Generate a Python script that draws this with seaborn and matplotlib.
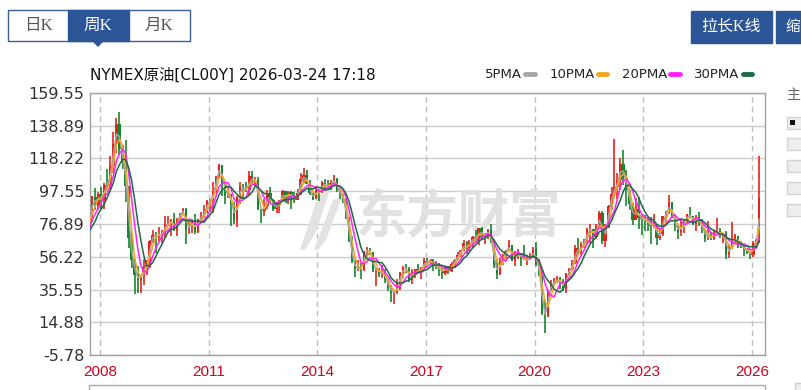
import numpy as np
import pandas as pd
import matplotlib
matplotlib.use('Agg')
import matplotlib.pyplot as plt
import matplotlib.dates as mdates
from matplotlib.patches import Rectangle, Polygon
import seaborn as sns

# ---------------- data (monthly OHLC, 2007-04 .. 2026-03) ----------------
start_month = '2007-04'
opens = [
    65.9, 65.6, 64.6, 70.7, 78.2, 73.9, 81.7, 94.0, 88.7,
    96.0, 91.8, 101.8, 101.6, 113.5, 127.4, 140.0, 124.1, 115.5, 100.6, 67.8, 54.4,
    44.6, 41.7, 44.8, 49.7, 51.1, 66.3, 69.9, 69.5, 70.0, 70.6, 77.0, 77.3,
    79.4, 72.9, 79.7, 83.8, 86.2, 73.9, 75.6, 78.9, 71.9, 79.9, 81.4, 84.1,
    91.4, 92.2, 97.0, 106.7, 113.9, 102.7, 95.4, 95.7, 88.8, 79.2, 93.2, 100.4,
    98.8, 98.5, 107.1, 103.0, 104.9, 86.5, 85.0, 88.1, 96.5, 92.2, 86.2, 88.9,
    91.8, 97.5, 92.0, 97.2, 93.5, 92.0, 96.6, 105.0, 107.7, 102.3, 96.4, 92.7,
    98.4, 97.5, 102.6, 101.6, 99.7, 102.7, 105.4, 98.2, 96.0, 91.2, 80.5, 66.2,
    53.3, 48.2, 49.8, 47.6, 59.6, 60.3, 59.5, 47.1, 49.2, 45.1, 46.6, 41.7,
    37.0, 33.6, 33.8, 38.3, 45.9, 49.1, 48.3, 41.6, 44.7, 48.2, 46.9, 49.4,
    53.7, 52.8, 54.0, 50.6, 49.3, 48.3, 46.0, 50.2, 47.2, 51.7, 54.4, 57.4,
    60.4, 64.7, 61.6, 64.9, 68.6, 67.0, 74.2, 68.8, 69.8, 73.3, 65.3, 50.9,
    45.4, 53.8, 57.2, 60.1, 63.9, 53.5, 58.5, 58.6, 55.1, 54.1, 54.2, 55.2,
    61.1, 51.6, 44.8, 20.5, 18.8, 35.5, 39.3, 40.3, 42.6, 40.2, 35.8, 45.3,
    48.5, 52.2, 61.5, 59.2, 63.6, 66.3, 73.5, 73.9, 68.5, 75.0, 83.6, 66.2,
    75.2, 88.2, 95.7, 100.3, 104.7, 114.7, 105.8, 98.6, 89.6, 79.5, 86.5, 80.6,
    80.3, 78.9, 77.1, 75.7, 76.8, 68.1, 70.6, 81.8, 83.6, 90.8, 81.0, 76.0,
    71.6, 75.8, 78.3, 83.2, 81.9, 77.0, 81.5, 77.9, 73.5, 68.2, 69.3, 68.0,
    71.7, 72.5, 69.8, 71.5, 58.2, 60.8, 65.1, 69.3, 64.0, 62.4, 60.9, 58.6,
    57.4, 65.2, 67.0,
]
highs = [
    68.1, 67.3, 70.8, 78.8, 78.8, 83.9, 94.7, 99.3, 97.0,
    100.1, 102.6, 111.8, 119.9, 135.1, 143.7, 147.3, 126.6, 130.0, 100.6, 71.0, 54.7,
    50.5, 45.0, 54.7, 54.0, 66.5, 73.4, 72.0, 75.0, 73.0, 82.0, 82.0, 80.0,
    83.9, 80.5, 83.8, 87.2, 87.0, 79.3, 79.3, 83.0, 80.0, 84.4, 88.6, 92.1,
    92.6, 103.4, 106.9, 114.8, 114.0, 102.7, 100.6, 95.9, 90.5, 94.6, 103.4, 102.4,
    103.7, 110.6, 110.5, 106.3, 106.4, 86.6, 92.9, 98.3, 100.4, 92.6, 90.6, 91.9,
    98.2, 98.0, 97.4, 97.8, 97.0, 99.0, 108.9, 112.2, 110.7, 104.4, 96.4, 100.8,
    98.9, 103.8, 105.2, 104.9, 104.5, 107.7, 106.0, 98.7, 96.0, 92.5, 81.5, 69.0,
    54.0, 54.2, 52.5, 59.9, 62.6, 61.8, 59.5, 49.3, 49.4, 50.9, 48.4, 42.0,
    38.4, 34.7, 41.9, 46.8, 50.2, 51.7, 49.5, 48.8, 48.3, 51.9, 49.9, 55.2,
    55.2, 54.9, 54.6, 53.8, 52.0, 49.3, 50.4, 50.4, 52.9, 54.8, 59.0, 60.5,
    66.7, 66.3, 66.7, 69.6, 72.9, 74.5, 75.3, 70.2, 73.9, 76.9, 65.4, 54.6,
    55.4, 57.8, 60.7, 66.6, 63.9, 59.9, 60.9, 58.6, 63.4, 57.5, 58.7, 62.3,
    65.7, 54.7, 48.7, 29.0, 35.5, 41.6, 42.5, 43.8, 43.5, 41.9, 46.0, 49.3,
    53.9, 63.8, 67.9, 65.5, 67.3, 74.5, 77.0, 73.9, 76.7, 85.4, 85.0, 76.8,
    88.8, 100.5, 130.5, 109.2, 118.5, 123.7, 111.0, 98.6, 90.4, 93.6, 93.7, 83.3,
    82.7, 80.6, 81.0, 83.5, 76.9, 74.0, 81.8, 84.9, 95.0, 90.8, 81.0, 76.2,
    79.3, 79.6, 83.2, 87.7, 81.9, 82.4, 84.5, 80.2, 73.5, 78.5, 72.0, 73.0,
    80.8, 74.6, 71.5, 72.3, 64.0, 78.4, 70.5, 69.4, 66.4, 63.6, 61.5, 60.0,
    66.0, 67.5, 119.5,
]
lows = [
    61.9, 61.5, 64.2, 69.4, 69.0, 73.5, 77.9, 86.0, 85.5,
    86.1, 86.1, 98.6, 98.7, 109.0, 122.0, 120.4, 111.3, 90.5, 62.0, 49.0, 32.4,
    33.2, 33.5, 38.7, 45.0, 49.4, 64.8, 58.3, 66.3, 65.0, 68.0, 75.0, 69.5,
    72.4, 69.5, 78.3, 82.5, 64.2, 70.4, 71.2, 70.8, 71.0, 79.6, 80.8, 84.1,
    84.6, 84.0, 96.5, 105.0, 94.6, 89.7, 93.6, 75.7, 77.1, 75.0, 89.2, 92.5,
    96.8, 95.4, 102.1, 100.7, 85.6, 77.3, 82.0, 86.5, 90.3, 84.9, 84.0, 84.1,
    91.5, 90.1, 89.2, 86.1, 89.9, 92.0, 95.5, 103.0, 102.0, 95.5, 91.8, 92.5,
    91.2, 96.2, 97.4, 98.7, 98.5, 102.0, 97.2, 92.5, 90.4, 79.8, 65.7, 52.4,
    43.6, 47.4, 42.0, 47.0, 56.5, 57.3, 46.7, 37.8, 43.2, 42.6, 39.9, 34.5,
    27.6, 26.1, 33.0, 35.2, 43.0, 45.8, 40.6, 39.2, 42.5, 46.3, 42.2, 49.3,
    50.7, 51.2, 47.1, 48.2, 43.8, 42.0, 44.4, 45.6, 46.5, 49.1, 54.2, 55.8,
    59.9, 58.1, 59.9, 61.8, 66.3, 63.6, 67.0, 64.4, 67.3, 64.9, 49.4, 42.4,
    44.4, 51.2, 55.1, 59.9, 53.5, 50.6, 54.7, 50.5, 53.9, 50.9, 54.1, 55.2,
    50.6, 44.0, 19.3, 8.0, 18.0, 34.4, 38.7, 39.9, 36.1, 34.9, 33.6, 44.3,
    47.2, 51.5, 57.3, 57.6, 61.6, 64.9, 65.0, 61.7, 67.4, 74.6, 64.4, 62.4,
    74.3, 85.7, 93.5, 92.9, 98.2, 101.5, 88.3, 85.7, 76.3, 79.3, 73.6, 70.1,
    72.5, 72.3, 64.1, 74.2, 63.6, 66.9, 69.0, 77.6, 83.5, 80.6, 72.4, 67.7,
    69.3, 71.4, 77.4, 80.7, 76.0, 72.5, 75.4, 71.5, 65.3, 66.6, 66.6, 67.0,
    71.4, 68.3, 65.2, 55.1, 55.3, 60.8, 64.4, 61.9, 61.5, 56.4, 57.7, 54.9,
    55.8, 61.5, 65.0,
]
closes = [
    65.7, 64.0, 70.7, 78.2, 74.0, 81.7, 94.5, 88.7, 96.0,
    91.8, 101.8, 101.6, 113.5, 127.4, 140.0, 124.1, 115.5, 100.6, 67.8, 54.4, 44.6,
    41.7, 44.8, 49.7, 51.1, 66.3, 69.9, 69.5, 70.0, 70.6, 77.0, 77.3, 79.4,
    72.9, 79.7, 83.8, 86.2, 73.9, 75.6, 78.9, 71.9, 79.9, 81.4, 84.1, 91.4,
    92.2, 97.0, 106.7, 113.9, 102.7, 95.4, 95.7, 88.8, 79.2, 93.2, 100.4, 98.8,
    98.5, 107.1, 103.0, 104.9, 86.5, 85.0, 88.1, 96.5, 92.2, 86.2, 88.9, 91.8,
    97.5, 92.0, 97.2, 93.5, 92.0, 96.6, 105.0, 107.7, 102.3, 96.4, 92.7, 98.4,
    97.5, 102.6, 101.6, 99.7, 102.7, 105.4, 98.2, 96.0, 91.2, 80.5, 66.2, 53.3,
    48.2, 49.8, 47.6, 59.6, 60.3, 59.5, 47.1, 49.2, 45.1, 46.6, 41.7, 37.0,
    33.6, 33.8, 38.3, 45.9, 49.1, 48.3, 41.6, 44.7, 48.2, 46.9, 49.4, 53.7,
    52.8, 54.0, 50.6, 49.3, 48.3, 46.0, 50.2, 47.2, 51.7, 54.4, 57.4, 60.4,
    64.7, 61.6, 64.9, 68.6, 67.0, 74.2, 68.8, 69.8, 73.3, 65.3, 50.9, 45.4,
    53.8, 57.2, 60.1, 63.9, 53.5, 58.5, 58.6, 55.1, 54.1, 54.2, 55.2, 61.1,
    51.6, 44.8, 20.5, 18.8, 35.5, 39.3, 40.3, 42.6, 40.2, 35.8, 45.3, 48.5,
    52.2, 61.5, 59.2, 63.6, 66.3, 73.5, 73.9, 68.5, 75.0, 83.6, 66.2, 75.2,
    88.2, 95.7, 100.3, 104.7, 114.7, 105.8, 98.6, 89.6, 79.5, 86.5, 80.6, 80.3,
    78.9, 77.1, 75.7, 76.8, 68.1, 70.6, 81.8, 83.6, 90.8, 81.0, 76.0, 71.6,
    75.8, 78.3, 83.2, 81.9, 77.0, 81.5, 77.9, 73.5, 68.2, 69.3, 68.0, 71.7,
    72.5, 69.8, 71.5, 58.2, 60.8, 65.1, 69.3, 64.0, 62.4, 60.9, 58.6, 57.4,
    65.2, 67.0, 93.0,
]
ma_labels = ['5PMA', '10PMA', '20PMA', '30PMA']
ma_windows = [2, 3, 5, 7]          # monthly equivalents of the weekly averages
ma_colors = ['#a6a6a6', '#f5a623', '#ff22ff', '#1d6b45']
y_ticks = [159.55, 138.89, 118.22, 97.55, 76.89, 56.22, 35.55, 14.88, -5.78]
year_ticks = ['2008', '2011', '2014', '2017', '2020', '2023', '2026']
title = 'NYMEX原油[CL00Y] 2026-03-24 17:18'
x_start, x_end = '2007-09-22', '2026-05-12'

# ---------------- style ----------------
sns.set_style('white')
plt.rcParams['font.family'] = ['DejaVu Sans', 'Noto Sans CJK SC']
CJK = ['Noto Sans CJK SC', 'DejaVu Sans']
BLUE = '#2b5597'
UP, DOWN = '#e8231b', '#16862e'

W, H = 801, 390
fig = plt.figure(figsize=(W / 100, H / 100), dpi=100)
fig.patch.set_facecolor('white')
fx = lambda x: x / W
fy = lambda y: 1 - y / H

ax = fig.add_axes([fx(90), fy(355), fx(765) - fx(90), fy(93) - fy(355)])

df = pd.DataFrame({'open': opens, 'high': highs, 'low': lows, 'close': closes})
df['date'] = pd.date_range(start_month, periods=len(df), freq='MS') + pd.Timedelta(days=14)
for lbl, w in zip(ma_labels, ma_windows):
    df[lbl] = df['close'].rolling(w, min_periods=1).mean()

up = df['close'] >= df['open']
colors = np.where(up, UP, DOWN)

# wicks and bodies
ax.vlines(df['date'], df['low'], df['high'], colors=colors, lw=1.2, zorder=3)
body_low = np.minimum(df['open'], df['close'])
body_h = np.maximum(np.abs(df['close'] - df['open']), 0.6)
ax.bar(df['date'], body_h, bottom=body_low, width=24, color=colors, linewidth=0, zorder=3)

# moving averages
for lbl, c in zip(ma_labels, ma_colors):
    sns.lineplot(data=df, x='date', y=lbl, ax=ax, color=c, lw=1.1, label=lbl, zorder=4)

ax.set_xlim(pd.Timestamp(x_start), pd.Timestamp(x_end))
ax.set_ylim(y_ticks[-1], y_ticks[0])
ax.set_yticks(y_ticks)
ax.set_yticklabels([f'{v:.2f}' for v in y_ticks], fontsize=11.5, color='#333333')
ax.set_xticks([pd.Timestamp(f'{y}-01-01') for y in year_ticks])
ax.set_xticklabels(year_ticks, color='#d0021b', fontsize=11,
                   family=['Liberation Sans Narrow', 'Liberation Sans'])
ax.tick_params(axis='both', length=0)
ax.tick_params(axis='y', pad=4)
ax.tick_params(axis='x', pad=7)
ax.set_xlabel('')
ax.set_ylabel('')
ax.set_axisbelow(True)
ax.grid(axis='y', color='#cccccc', lw=1, ls='-')
ax.grid(axis='x', color='#bdbdbd', lw=1, ls=(0, (4, 3)))
for s in ax.spines.values():
    s.set_color('#a0a0a0')
    s.set_linewidth(1)

# legend: label then short thick dash
leg = ax.legend(ncol=4, markerfirst=False, frameon=False, loc='center right',
                bbox_to_anchor=(fx(752), fy(75)), bbox_transform=fig.transFigure,
                handlelength=0.7, handletextpad=0.25, columnspacing=1.1,
                fontsize=9.5, borderaxespad=0, borderpad=0)
for h in leg.legend_handles:
    h.set_linewidth(3.5)
for t in leg.get_texts():
    t.set_color('#222222')

# title
fig.text(fx(90), fy(75), title, ha='left', va='center', fontsize=11, color='#111111')

# watermark
ax.text(fx(458), fy(217), '东方财富', transform=fig.transFigure, ha='center', va='center',
        fontsize=37, fontweight='bold', color='#dedede', family=CJK, zorder=1, alpha=0.9)
logo = [[(300, 250), (318, 196), (330, 190), (316, 232), (305, 250)],
        [(314, 250), (333, 200), (342, 197), (326, 240), (318, 250)]]
for pts in logo:
    ax.add_patch(Polygon([(fx(a), fy(b)) for a, b in pts], closed=True,
                         transform=fig.transFigure, facecolor='#e2e2e2', edgecolor='none', zorder=1))

# ---------------- surrounding page widgets ----------------
def rect(x0, y0, x1, y1, **kw):
    fig.patches.append(Rectangle((fx(x0), fy(y1)), fx(x1) - fx(x0), fy(y0) - fy(y1),
                                 transform=fig.transFigure, **kw))

rect(8, 10, 190, 41, facecolor='white', edgecolor='#3d5f94', lw=1)
rect(68, 10, 129, 41, facecolor=BLUE, edgecolor=BLUE, lw=1)
fig.patches.append(Polygon([(fx(92), fy(41)), (fx(104), fy(41)), (fx(98), fy(47))],
                           closed=True, transform=fig.transFigure, facecolor=BLUE, edgecolor='none'))
KF = ['Liberation Serif', 'Noto Sans CJK SC']
fig.text(fx(38), fy(26), '日K', ha='center', va='center', fontsize=12, color='#555555', family=KF)
fig.text(fx(98), fy(26), '周K', ha='center', va='center', fontsize=12, color='white', family=KF)
fig.text(fx(159), fy(26), '月K', ha='center', va='center', fontsize=12, color='#555555', family=KF)

rect(691, 11, 772, 43, facecolor=BLUE, edgecolor=BLUE, lw=1)
rect(776, 11, 810, 43, facecolor=BLUE, edgecolor=BLUE, lw=1)
fig.text(fx(731), fy(27), '拉长K线', ha='center', va='center', fontsize=11.5, color='white', family=KF)
fig.text(fx(785), fy(27), '缩', ha='left', va='center', fontsize=10.5, color='white', family=CJK)

fig.text(fx(786), fy(95), '主', ha='left', va='center', fontsize=10, color='#666666', family=CJK)
for y0 in [117, 138, 160, 182, 204]:
    rect(787, y0, 810, y0 + 12, facecolor='#eeeeee', edgecolor='#d2d2d2', lw=1)
rect(790, 119.5, 795, 124.5, facecolor='#111111', edgecolor='none')

rect(89, 385, 765, 400, facecolor='none', edgecolor='#aaaaaa', lw=1)
rect(795, 383, 810, 400, facecolor='#eeeeee', edgecolor='#cccccc', lw=1)

fig.savefig('out.png', dpi=100)
